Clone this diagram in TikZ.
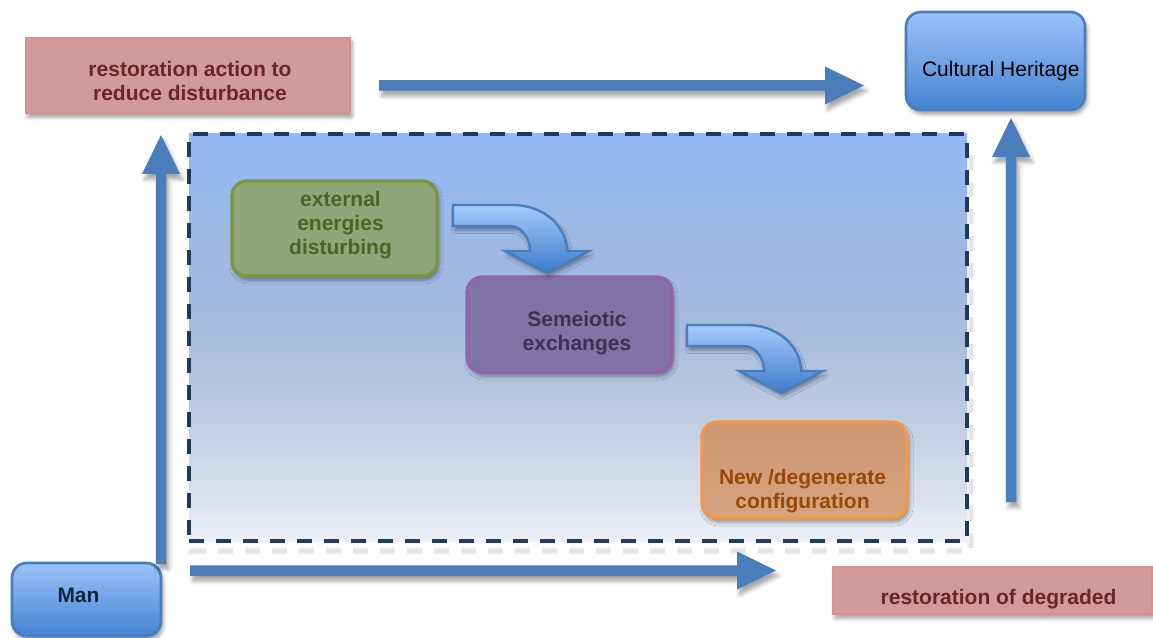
\documentclass[tikz,border=0pt]{standalone}
\usepackage{fontspec}
\setmainfont{Liberation Sans}
\usetikzlibrary{shadows.blur,fit,calc}

\definecolor{arrowblue}{HTML}{4A7EBB}
\definecolor{boxtop}{HTML}{9CC3FA}
\definecolor{boxbot}{HTML}{4683D1}
\definecolor{pinkfill}{HTML}{D29B9B}
\definecolor{pinkline}{HTML}{D98F8F}
\definecolor{pinktext}{HTML}{6B2525}
\definecolor{greenfill}{HTML}{8DA77A}
\definecolor{greenline}{HTML}{7A963C}
\definecolor{greentext}{HTML}{4F6228}
\definecolor{purplefill}{HTML}{8074A4}
\definecolor{purpleline}{HTML}{9064AA}
\definecolor{purpletext}{HTML}{3F3151}
\definecolor{orangetop}{HTML}{CD9872}
\definecolor{orangebot}{HTML}{D6A47E}
\definecolor{orangeline}{HTML}{F79646}
\definecolor{orangetext}{HTML}{984807}
\definecolor{mantext}{HTML}{10253F}
\definecolor{dashnavy}{HTML}{1F3A60}
\definecolor{pTop}{HTML}{93B8F3}
\definecolor{pA}{HTML}{9DB8E4}
\definecolor{pB}{HTML}{A8BCDC}
\definecolor{pC}{HTML}{BFCDE4}
\definecolor{pD}{HTML}{D6DEEC}
\definecolor{pBot}{HTML}{EDF0F6}
\definecolor{benttop}{HTML}{A5CAFD}
\definecolor{bentbot}{HTML}{3D7CCB}

% vertical fade of the framed panel (0bp = bottom)
\pgfdeclareverticalshading{panelfade}{100bp}{%
  color(0bp)=(pBot); color(25bp)=(pBot); color(32bp)=(pD); color(40bp)=(pC);
  color(50bp)=(pB); color(62bp)=(pA); color(75bp)=(pTop); color(100bp)=(pTop)}

% thick block arrows, drawn between two named coordinates
\newcommand\bigarrowright[2]{%
  \fill[bigarrow] ($(#1)+(0,-5.25)$) -- ($(#2)+(-39,-5.25)$) -- ($(#2)+(-39,-19)$)
    -- (#2) -- ($(#2)+(-39,19)$) -- ($(#2)+(-39,5.25)$) -- ($(#1)+(0,5.25)$) -- cycle;}
\newcommand\bigarrowup[2]{%
  \fill[bigarrow] ($(#1)+(-5.25,0)$) -- ($(#2)+(-5.25,39)$) -- ($(#2)+(-19,39)$)
    -- (#2) -- ($(#2)+(19,39)$) -- ($(#2)+(5.25,39)$) -- ($(#1)+(5.25,0)$) -- cycle;}

\begin{document}
\begin{tikzpicture}[x=0.75pt,y=-0.75pt,
  lbl/.style={font=\fontsize{15.75}{18}\selectfont, align=center, inner sep=0pt},
  softshadow/.style={blur shadow={shadow xshift=1.5pt, shadow yshift=-3pt,
      shadow blur radius=3pt, shadow opacity=40}},
  bluebox/.style={softshadow, inner sep=0pt, rounded corners=11pt,
      top color=boxtop, bottom color=boxbot, draw=arrowblue, line width=2pt},
  pinkbox/.style={softshadow, inner sep=0pt, fill=pinkfill, draw=pinkline, line width=1.3pt},
  roundbox/.style={softshadow, inner sep=0pt, rounded corners=11pt, line width=2.3pt},
  bigarrow/.style={fill=arrowblue, blur shadow={shadow xshift=2pt, shadow yshift=-4pt,
      shadow blur radius=3pt, shadow opacity=35}},
  panel/.style={inner sep=0pt, shading=panelfade, draw=dashnavy, line width=2.6pt,
      dash pattern=on 11.25pt off 9pt},
  panelshade/.style={draw=black!20, line width=3.5pt, dash pattern=on 11.25pt off 9pt,
      opacity=0.4},
  bentfill/.style={top color=benttop, bottom color=bentbot, draw=arrowblue, line width=1.8pt,
      blur shadow={shadow xshift=1.5pt, shadow yshift=-3pt, shadow blur radius=2.5pt,
      shadow opacity=35}},
  bent arrow/.pic={
    \path[bentfill] (0,0) -- (60,0) .. controls (90,0) and (114,21) .. (114,46)
      -- (136,46) -- (94,68) -- (52,46) -- (77,46)
      .. controls (77,32) and (68,21) .. (57,21) -- (0,21) -- cycle;}
]
\useasboundingbox (0,0) rectangle (1153,638);

% soft dashed shadow below the framed panel
\draw[panelshade, draw=black!10, line width=6pt] (192,145) rectangle (971,551);
\draw[panelshade] (192,145) rectangle (971,551);

% framed panel
\node[panel, fit={(189,134)(967,541)}] (panel) {};

% boxes
\node[pinkbox, fit={(26,38)(350,113)},
  label={[lbl, font=\fontsize{15.75}{18}\selectfont\bfseries, text=pinktext,
    xshift=1.5pt, yshift=-4.1pt, name=actT]center:restoration action to\\reduce disturbance}] (action) {};

\node[bluebox, fit={(906,12)(1085,110)},
  label={[lbl, text=black, xshift=4pt, yshift=-7.3pt, name=chT]center:Cultural Heritage}] (ch) {};

\node[bluebox, fit={(12,563)(161,636)},
  label={[lbl, font=\fontsize{15.75}{18}\selectfont\bfseries, text=mantext,
    xshift=-6pt, yshift=3pt, name=manT]center:Man}] (man) {};

\node[pinkbox, fit={(833,567)(1152,614)},
  label={[lbl, font=\fontsize{15.75}{18}\selectfont\bfseries, text=pinktext,
    xshift=4.5pt, yshift=-6.4pt, name=degT]center:restoration of degraded}] (degraded) {};

\node[roundbox, fill=greenfill, draw=greenline, fit={(232,181)(437,276)},
  label={[lbl, font=\fontsize{15.75}{18}\selectfont\bfseries, text=greentext,
    xshift=4.5pt, yshift=2.2pt, name=extT]center:external\\energies\\disturbing}] (external) {};

\node[roundbox, fill=purplefill, draw=purpleline, fit={(467,277)(672,372)},
  label={[lbl, font=\fontsize{15.75}{18}\selectfont\bfseries, text=purpletext,
    xshift=5.6pt, yshift=-6.4pt, name=semT]center:Semeiotic\\exchanges}] (semeiotic) {};

\node[roundbox, top color=orangetop, bottom color=orangebot, draw=orangeline,
  fit={(702,422)(907,518)},
  label={[lbl, font=\fontsize{15.75}{18}\selectfont\bfseries, text=orangetext,
    xshift=-1.5pt, yshift=-16pt, name=newT]center:New /degenerate\\configuration}] (newconf) {};

% curved block arrows inside the panel
\pic at (453,205) {bent arrow};
\pic at (687,325) {bent arrow};

% straight block arrows
\coordinate (tA) at (379,85.5);  \coordinate (tB) at (864,85.5);
\coordinate (bA) at (190,570.5); \coordinate (bB) at (776,570.5);
\coordinate (lA) at (161,564);   \coordinate (lB) at (161,135);
\coordinate (rA) at (1011,502);  \coordinate (rB) at (1011,118);

\bigarrowright{tA}{tB}
\bigarrowright{bA}{bB}
\bigarrowup{lA}{lB}
\bigarrowup{rA}{rB}
\end{tikzpicture}
\end{document}
